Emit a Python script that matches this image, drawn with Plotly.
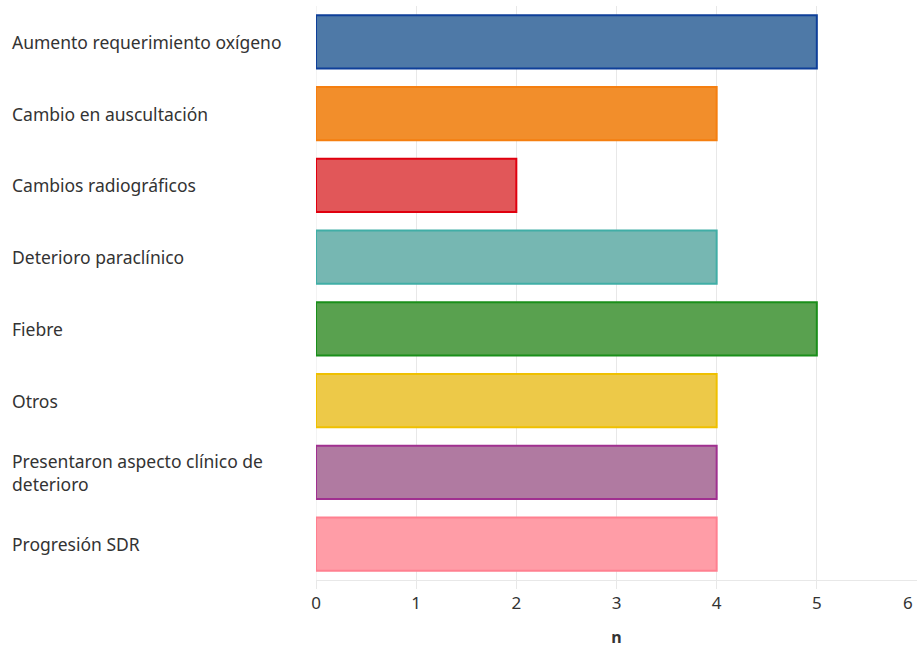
import plotly.graph_objects as go

categories = [
    "Aumento requerimiento oxígeno",
    "Cambio en auscultación",
    "Cambios radiográficos",
    "Deterioro paraclínico",
    "Fiebre",
    "Otros",
    "Presentaron aspecto clínico de<br>deterioro",
    "Progresión SDR",
]
values = [5, 4, 2, 4, 5, 4, 4, 4]
fill_colors = ["#4e79a7", "#f28e2b", "#e15759", "#76b7b2", "#59a14f", "#edc948", "#b07aa1", "#ff9da7"]
line_colors = ["#0e3f99", "#f57f10", "#e0000f", "#40aea6", "#1a8f1a", "#efc000", "#a03090", "#ff8090"]
x_ticks = [0, 1, 2, 3, 4, 5, 6]
x_title = "n"

FONT = "Noto Sans"
TXT = "#333333"
GRID = "#e8e8e8"

fig = go.Figure(
    go.Bar(
        x=values,
        y=categories,
        orientation="h",
        marker=dict(color=fill_colors, line=dict(color=line_colors, width=2)),
        hoverinfo="x+y",
    )
)

# left-aligned category labels
for c in categories:
    fig.add_annotation(
        x=0, xref="paper", xshift=-306, xanchor="left",
        y=c, yref="y", yanchor="middle",
        text=c, showarrow=False, align="left",
        font=dict(family=FONT, size=17.5, color=TXT),
    )

# last tick label pulled inside the canvas
fig.add_annotation(
    x=x_ticks[-1], xref="x", xanchor="right", xshift=-2,
    y=0, yref="paper", yanchor="top", yshift=-9,
    text=str(x_ticks[-1]), showarrow=False,
    font=dict(family=FONT, size=17, color=TXT),
)

fig.update_layout(
    width=918, height=648,
    margin=dict(l=316, r=1, t=6, b=68, autoexpand=False),
    paper_bgcolor="white", plot_bgcolor="white",
    bargap=0.26,
    showlegend=False,
    font=dict(family=FONT, size=17, color=TXT),
)
fig.update_xaxes(
    range=[0, 6], tickvals=x_ticks[:-1], ticktext=[str(t) for t in x_ticks[:-1]],
    showgrid=True, gridcolor=GRID, gridwidth=1,
    zeroline=False,
    showline=True, linecolor=GRID, linewidth=1,
    ticks="outside", ticklen=8, tickcolor=GRID,
    tickfont=dict(family=FONT, size=17, color=TXT),
    title=dict(text="<b>" + x_title + "</b>", font=dict(family=FONT, size=16, color=TXT), standoff=22),
    automargin=False,
    fixedrange=True,
)
fig.update_yaxes(
    categoryorder="array", categoryarray=categories, autorange="reversed",
    showticklabels=False, showgrid=False, zeroline=False, showline=False,
    automargin=False,
    fixedrange=True,
)
fig.add_vline(x=0, line=dict(color=GRID, width=1), layer="below")

fig.write_html(
    "out.html",
    config={"displayModeBar": False},
    post_script="document.body.style.margin='0';",
)
